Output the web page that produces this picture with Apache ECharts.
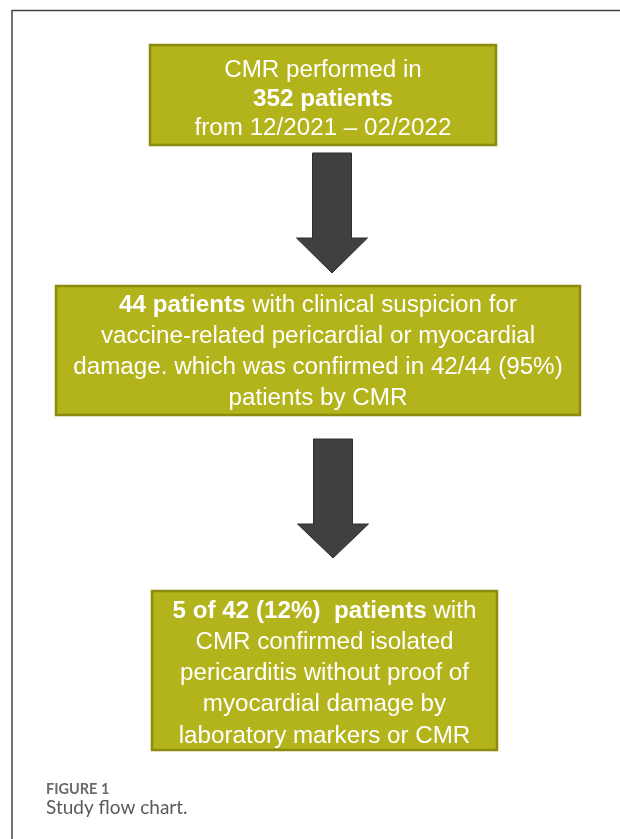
<!DOCTYPE html>
<html>
<head>
<meta charset="utf-8">
<script src="https://cdn.jsdelivr.net/npm/echarts@6/dist/echarts.min.js"></script>
<style>
html,body{margin:0;padding:0;background:#fff;}
#main{width:620px;height:839px;}
</style>
</head>
<body>
<div id="main"></div>
<script>
// Flow chart content
const boxTexts = [
  "CMR performed in\n{b|352 patients}\nfrom 12/2021 \u2013 02/2022",
  "{b|44 patients} with clinical suspicion for\nvaccine-related pericardial or myocardial\ndamage. which was confirmed in 42/44 (95%)\npatients by CMR",
  "{b|5 of 42 (12%)  patients} with\nCMR confirmed isolated\npericarditis without proof of\nmyocardial damage by\nlaboratory markers or CMR"
];
const captionLabel = "FIGURE 1";
const captionText = "Study flow chart.";

// layout (pixels)
const boxLayout = [
  {x:150, y:45, w:346, h:100, lh:29, dy:4},
  {x:56, y:286, w:524, h:129, lh:31, dy:1},
  {x:152, y:591, w:345, h:159, lh:31.3, dy:3}
];
const arrowLayout = [
  {cx:332, top:153, headTop:238, tip:273},
  {cx:333, top:439, headTop:524, tip:558}
];

const chart = echarts.init(document.getElementById('main'), null, {renderer:'canvas'});
const fill = '#b3b31b', stroke = '#8c8c0c', font = 'Liberation Sans', fs = 24.2;
const elements = [];

// frame (left + top lines)
elements.push({type:'polyline', shape:{points:[[12,839],[12,10.5],[620,10.5]]},
  style:{stroke:'#444', lineWidth:1.5, fill:null}});

boxLayout.forEach((b,i)=>{
  elements.push({type:'rect', shape:{x:b.x+1, y:b.y+1, width:b.w, height:b.h},
    style:{fill:'rgba(0,0,0,0.12)'}});
  elements.push({type:'rect', shape:{x:b.x, y:b.y, width:b.w, height:b.h},
    style:{fill:fill, stroke:stroke, lineWidth:2.5}});
  elements.push({type:'text', x:b.x+b.w/2, y:b.y+b.h/2+b.dy,
    style:{text:boxTexts[i], fill:'#fff', fontSize:fs, fontFamily:font, align:'center', verticalAlign:'middle',
      lineHeight:b.lh,
      rich:{b:{fontWeight:'bold', fontSize:fs, fontFamily:font, fill:'#fff', lineHeight:b.lh}}}});
});

arrowLayout.forEach(a=>{
  const sw = 19.5, hw = 35.5;
  elements.push({type:'polygon', shape:{points:[
    [a.cx-sw,a.top],[a.cx+sw,a.top],[a.cx+sw,a.headTop],[a.cx+hw,a.headTop],
    [a.cx,a.tip],[a.cx-hw,a.headTop],[a.cx-sw,a.headTop]]},
    style:{fill:'#404040', stroke:'#2e2e2e', lineWidth:1}});
});

elements.push({type:'text', x:46, y:789, style:{text:captionLabel, fill:'#6a6a6a',
  fontSize:14.5, fontWeight:'bold', fontFamily:'Lato', verticalAlign:'middle'}});
elements.push({type:'text', x:46, y:808, style:{text:captionText, fill:'#5a5a5a',
  fontSize:19, fontFamily:'Lato', verticalAlign:'middle'}});

chart.setOption({animation:false, graphic:{elements:elements}});
</script>
</body>
</html>
